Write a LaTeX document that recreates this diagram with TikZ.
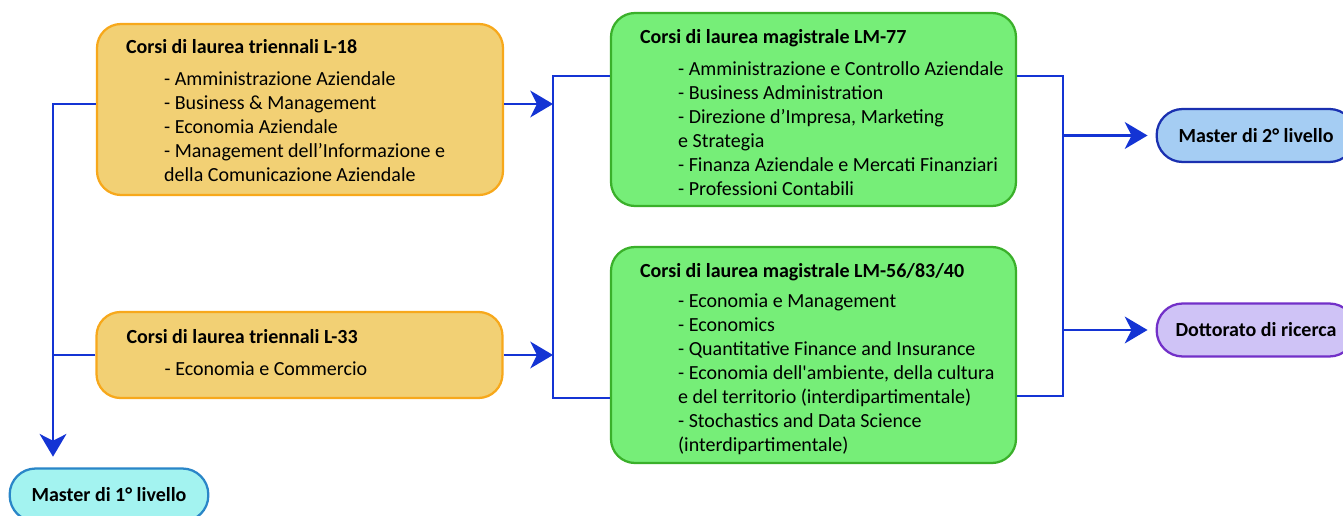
\documentclass[tikz,border=0pt]{standalone}
\usepackage{fontspec}
\setmainfont{Carlito}[Ligatures=TeXOff]
\usetikzlibrary{arrows.meta,calc}

\definecolor{arancio}{HTML}{F2D074}
\definecolor{arancioBordo}{HTML}{F7A81B}
\definecolor{verde}{HTML}{76EE78}
\definecolor{verdeBordo}{HTML}{3AB02A}
\definecolor{blu}{HTML}{1434D4}
\definecolor{ciano}{HTML}{A3F3F0}
\definecolor{cianoBordo}{HTML}{2A86C8}
\definecolor{azzurro}{HTML}{A5CDF3}
\definecolor{azzurroBordo}{HTML}{1A30B0}
\definecolor{lilla}{HTML}{CFC3F6}
\definecolor{lillaBordo}{HTML}{7230C8}

\newcommand{\voce}{\hspace*{28.5pt}}

\begin{document}
\fontsize{15pt}{18pt}\selectfont
\begin{tikzpicture}[x=0.75pt, y=-0.75pt,
        box/.style={draw, line width=1.7pt, rounded corners=18pt, inner sep=0pt},
        triennale/.style={box, fill=arancio, draw=arancioBordo, minimum width=304.5pt},
        magistrale/.style={box, fill=verde, draw=verdeBordo, minimum width=303.75pt},
        master/.style={box, rounded corners=19.5pt, minimum width=149pt, minimum height=39.75pt, font=\bfseries},
        testo/.style={anchor=west, align=left, inner sep=0pt},
        filo/.style={draw=blu, line width=2.2pt},
        freccia/.style={filo, -{Stealth[length=17pt, width=20pt, inset=5pt]}}]
                \useasboundingbox (0,0) rectangle (1343,516);

                % lauree triennali
                \node[triennale, minimum height=128.25pt] (l18) at (300,109.5) {};
                \node[testo] (l18t) at ([xshift=22.5pt, yshift=-1pt]l18.west) {\textbf{Corsi di laurea triennali L-18}\\[6pt]
                        \voce- Amministrazione Aziendale\\
                        \voce- Business \& Management\\
                        \voce- Economia Aziendale\\
                        \voce- Management dell’Informazione e\\
                        \voce della Comunicazione Aziendale};

                \node[triennale, minimum height=64.5pt] (l33) at (299.5,355) {};
                \node[testo] (l33t) at ([xshift=23.25pt, yshift=2pt]l33.west) {\textbf{Corsi di laurea triennali L-33}\\[6pt]
                        \voce- Economia e Commercio};

                % lauree magistrali
                \node[magistrale, minimum height=144.75pt] (lm77) at (813.5,109.5) {};
                \node[testo] (lm77t) at ([xshift=22.5pt, yshift=-2pt]lm77.west) {\textbf{Corsi di laurea magistrale LM-77}\\[6pt]
                        \voce- Amministrazione e Controllo Aziendale\\
                        \voce- Business Administration\\
                        \voce- Direzione d’Impresa, Marketing\\
                        \voce e Strategia\\
                        \voce- Finanza Aziendale e Mercati Finanziari\\
                        \voce- Professioni Contabili};

                \node[magistrale, minimum height=162pt] (lm56) at (813.5,355) {};
                \node[testo] (lm56t) at ([xshift=22.5pt, yshift=-3pt]lm56.west) {\textbf{Corsi di laurea magistrale LM-56/83/40}\\[4.5pt]
                        \voce- Economia e Management\\
                        \voce- Economics\\
                        \voce- Quantitative Finance and Insurance\\
                        \voce- Economia dell'ambiente, della cultura\\
                        \voce e del territorio (interdipartimentale)\\
                        \voce- Stochastics and Data Science\\
                        \voce (interdipartimentale)};

                % master e dottorato
                \node[master, fill=ciano, draw=cianoBordo] (master1) at (109,495) {Master di 1° livello};
                \node[master, fill=azzurro, draw=azzurroBordo] (master2) at (1256,135.5) {Master di 2° livello};
                \node[master, fill=lilla, draw=lillaBordo] (dott) at (1256,330) {Dottorato di ricerca};

                % collegamenti
                \coordinate (bl) at (53,250);
                \coordinate (bc) at (553,250);
                \coordinate (br) at (1063,250);

                \draw[freccia, shorten >=8pt] ($(l18.west)+(0,-5.5)$) -| (master1.north -| bl);
                \draw[filo] (l33.west) -- (l33.west -| bl);

                \draw[freccia] ($(l18.east)+(0,-5.5)$) coordinate (a18) -- (a18 -| bc);
                \draw[freccia] (l33.east) -- (l33.east -| bc);
                \draw[filo] ($(lm77.west)+(0,-33.5)$) -| (bc) |- ($(lm56.west)+(0,43)$);

                \draw[filo] ($(lm77.east)+(0,-33.5)$) -| (br) |- ($(lm56.east)+(0,41)$);
                \foreach \b in {master2, dott} {
                        \draw[freccia, shorten >=6pt] (br |- \b.west) -- (\b.west);
                    }
            \end{tikzpicture}
\end{document}
